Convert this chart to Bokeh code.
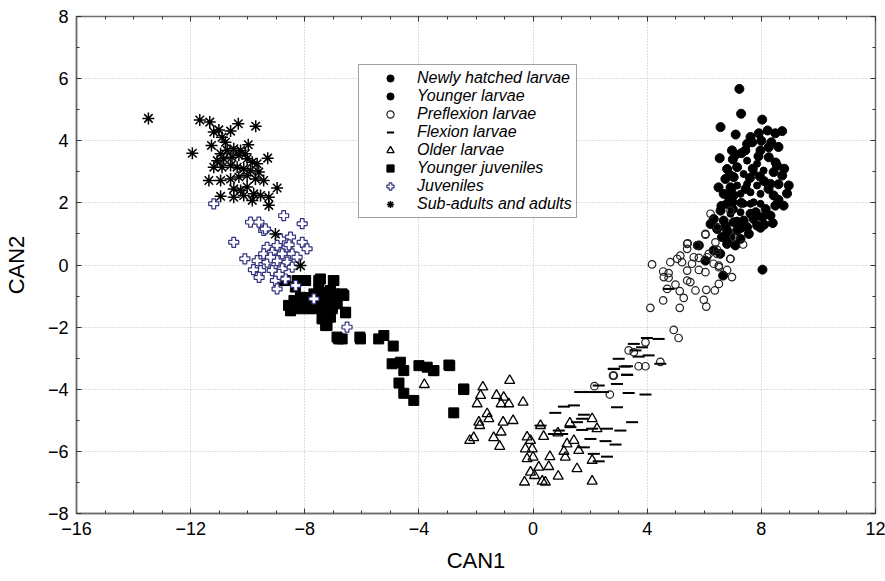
from bokeh.plotting import figure
from bokeh.models import LinearAxis, Legend, LegendItem, FixedTicker, Range1d, CustomJSTickFormatter
from bokeh.embed import file_html
from bokeh.resources import INLINE

# ---------------- data ----------------
nh_x = [7.50, 7.85, 7.38, 7.73, 8.08, 7.15, 7.50, 7.85, 7.27, 7.62, 7.97, 7.03, 7.38, 7.73, 6.92, 7.27, 8.20, 7.62, 7.97, 7.15]
nh_y = [3.36, 3.26, 2.93, 2.99, 3.04, 2.56, 2.61, 2.56, 2.29, 2.34, 2.29, 2.02, 1.97, 2.02, 1.65, 1.70, 2.61, 1.97, 1.97, 1.43]

yl_x = [7.23, 7.29, 8.03, 6.57, 7.62, 7.91, 8.22, 8.49, 8.73, 7.68, 8.35, 6.54, 6.80, 7.15, 8.26, 6.74,
        7.03, 8.43, 8.73, 8.96, 6.92, 8.32, 6.68, 7.03, 8.43, 6.80, 8.49, 8.78, 6.57, 7.62, 8.32,
        6.33, 6.68, 7.03, 7.38, 7.73, 8.03, 6.45, 6.80, 7.15, 7.50, 7.85, 6.62, 6.92, 7.27, 7.56,
        6.80, 7.09, 6.22, 7.44, 7.97, 8.26, 6.97, 8.04, 5.81, 6.04, 6.66, 6.33, 6.56, 7.97, 8.60,
        8.15, 8.55, 7.10, 6.95, 8.40,
        7.00, 7.30, 7.90, 8.50, 8.10, 7.60, 6.90, 8.60, 8.90, 8.60, 7.30, 7.00, 7.80, 8.10, 7.30,
        6.60, 6.50, 7.50, 8.00, 8.60, 7.10, 8.80, 7.70, 6.85, 7.45, 8.25, 6.75, 7.95]
yl_y = [5.67, 4.87, 4.68, 4.44, 4.12, 4.24, 4.33, 4.24, 4.31, 3.95, 3.95, 3.44, 3.09, 3.15, 3.47, 2.77,
        2.83, 2.99, 2.88, 2.56, 2.50, 2.61, 2.29, 2.24, 2.24, 1.97, 1.91, 1.91, 1.75, 1.65, 1.59,
        1.48, 1.43, 1.38, 1.43, 1.48, 1.54, 1.16, 1.11, 1.11, 1.22, 1.27, 0.90, 0.90, 0.84, 1.00,
        0.68, 0.63, 1.32, 3.69, 3.69, 3.79, 3.69, -0.15, 0.63, 0.14, -0.34, 0.47, 0.36, 1.20, 2.10,
        1.80, 3.20, 3.55, 2.45, 1.35,
        3.40, 3.60, 3.50, 3.30, 2.70, 2.80, 2.90, 2.60, 2.30, 2.00, 2.00, 1.80, 1.70, 1.30, 1.20,
        1.90, 2.50, 3.90, 4.00, 3.80, 4.20, 3.10, 3.10, 2.20, 2.45, 2.45, 1.25, 2.85]

pf_x = [4.17, 4.81, 4.56, 4.75, 5.05, 5.22, 5.42, 5.40, 5.75, 6.04, 6.39, 6.45, 6.16, 5.81, 5.57,
        5.40, 5.81, 6.04, 6.33, 6.51, 6.91, 6.80, 6.97, 4.58, 4.75, 4.99, 5.40, 5.51, 4.70, 5.14,
        5.28, 5.69, 6.07, 6.37, 6.51, 5.98, 6.07, 4.56, 4.11, 5.14, 4.93, 5.10, 3.94, 3.35, 3.53,
        3.70, 3.94, 4.46, 2.83, 2.80, 2.15, 2.69, 6.22, 6.04, 6.92, 6.45, 7.03, 7.36, 6.92, 5.40,
        5.75, 5.16, 5.63, 6.45, 6.51, 6.10]
pf_y = [0.02, 0.09, -0.21, -0.26, 0.20, 0.09, 0.70, 0.52, 0.63, 0.98, 0.73, 0.49, 0.36, 0.23, 0.04,
        -0.18, -0.16, -0.23, 0.04, -0.02, 0.20, -0.16, -0.39, -0.39, -0.41, -0.63, -0.50, -0.55, -0.77, -0.84,
        -1.06, -0.82, -0.80, -0.82, -0.61, -1.12, -1.34, -1.14, -1.38, -1.38, -2.09, -2.35, -2.49, -2.75, -2.81,
        -3.26, -3.26, -3.12, -3.56, -3.56, -3.90, -4.17, 1.65, 1.00, 1.75, 1.22, 0.90, 0.66, 0.20, 0.68,
        0.63, 0.30, 0.25, 0.36, -0.07, 0.25]

fl_x = [2.83, 3.21, 3.30, 2.30, 2.19, 1.95, 2.94, 3.35, 3.94, 1.43, 1.08, 0.78, 2.94, 3.47, 1.78,
        1.72, 1.54, 1.31, 1.72, 2.07, 2.59, 3.06, 0.90, 0.73, 1.02, 2.01, 2.54, 2.89, 1.78, 2.13,
        2.59, 2.30, 0.26, 3.99, 4.40, 3.53, 3.59, 3.82, 3.70, 4.05, 3.00, 3.29, 2.83, 3.29, 4.46,
        4.75, 1.65, 2.45]
fl_y = [-3.34, -3.27, -3.54, -3.88, -4.09, -4.09, -3.83, -4.12, -4.17, -4.52, -4.56, -4.76, -4.58, -5.06, -4.82,
        -4.95, -5.06, -5.22, -5.31, -5.27, -5.27, -5.33, -5.33, -5.44, -5.44, -5.60, -5.67, -5.78, -5.87, -6.08,
        -6.17, -6.32, -5.17, -2.35, -2.38, -2.54, -2.75, -2.65, -2.95, -2.91, -3.02, -3.26, -3.35, -3.53, -3.18,
        -0.77, -4.09, -4.09]

ol_x = [-0.82, -1.76, -1.84, -1.96, -1.28, -1.03, -1.12, -0.85, -0.35, -1.61, -1.55, -1.90, -1.87, -1.05,
        -0.70, -1.12, -2.22, -2.08, -1.38, -1.17, 0.26, 0.37, 0.87, 1.29, 1.43, 2.07, 2.24, 1.19, 1.08,
        -0.21, -0.09, -0.27, -0.03, -0.21, 0.00, 0.59, 0.55, 0.20, -0.09, 0.05, 0.32, 0.43, -0.30, 0.88,
        1.54, 2.07, 2.07, 1.60, 1.13, -3.81]
ol_y = [-3.72, -3.93, -4.20, -4.47, -4.20, -4.26, -4.47, -4.47, -4.42, -4.79, -4.95, -5.06, -5.17, -5.06,
        -5.01, -5.38, -5.65, -5.56, -5.56, -5.84, -5.17, -5.52, -5.41, -5.09, -5.65, -4.95, -5.27, -5.76, -6.00,
        -5.54, -5.65, -5.92, -5.92, -6.24, -6.19, -6.17, -6.49, -6.51, -6.67, -6.78, -6.96, -6.99, -6.99, -6.80,
        -6.56, -6.29, -6.96, -5.97, -6.19, -3.85]

yj_x = [-8.73, -8.33, -7.97, -7.51, -7.00, -8.15, -8.50, -7.68, -7.33, -6.98, -6.63, -7.92, -7.57, -7.22,
        -6.87, -7.33, -7.04, -6.57, -7.39, -7.22, -6.87, -6.69, -6.07, -5.41, -5.23, -4.90, -4.94, -4.65,
        -4.53, -4.00, -3.71, -3.48, -2.95, -4.70, -4.53, -4.18, -2.43, -3.48, -2.92, -2.43, -2.78, -8.57,
        -7.80, -7.45, -7.15, -7.70, -7.40,
        -8.68, -8.27, -7.98, -7.45, -6.98, -7.51, -7.10, -6.69, -8.38, -8.03, -7.57, -7.22, -6.87,
        -8.50, -8.15, -7.80, -7.39, -7.04, -6.57, -7.39, -7.10, -7.27, -6.81, -6.05]
yj_y = [-0.50, -0.71, -0.50, -0.50, -0.50, -1.04, -1.47, -0.93, -0.88, -0.93, -0.98, -1.25, -1.14, -1.20,
        -1.25, -1.47, -1.36, -1.54, -1.73, -1.95, -2.32, -2.38, -2.32, -2.38, -2.27, -2.61, -3.18, -3.13,
        -3.40, -3.24, -3.29, -3.40, -3.22, -3.80, -4.13, -4.36, -3.99, -3.40, -3.24, -4.01, -4.76, -1.30,
        -1.05, -1.00, -1.10, -1.40, -1.30,
        -0.50, -0.50, -0.50, -0.45, -0.50, -0.77, -0.82, -0.93, -1.14, -1.14, -1.09, -1.14, -1.20,
        -1.47, -1.41, -1.41, -1.36, -1.41, -1.52, -1.73, -1.68, -1.95, -2.38, -2.38]

jv_x = [-11.19, -8.74, -9.90, -9.61, -8.09, -9.44, -10.49, -8.50, -8.85, -8.09, -7.92, -9.32, -8.97,
        -8.62, -9.44, -9.14, -8.79, -8.44, -9.67, -9.32, -8.97, -8.62, -8.27, -9.55, -9.14, -8.79, -8.44,
        -9.03, -8.68, -8.97, -8.32, -7.68, -6.52, -9.38, -10.10, -9.80, -9.20, -8.90, -9.60, -8.55]
jv_y = [1.97, 1.59, 1.38, 1.38, 1.33, 1.11, 0.73, 0.90, 0.84, 0.73, 0.52, 0.57, 0.63,
        0.57, 0.36, 0.41, 0.36, 0.36, 0.14, 0.09, 0.14, 0.09, 0.25, -0.18, -0.18, -0.12, -0.07,
        -0.50, -0.45, -0.77, -0.66, -1.09, -2.00, 1.16, 0.20, -0.15, 0.25, -0.30, -0.40, 0.65]

sa_x = [-13.48, -11.68, -11.33, -10.33, -9.72, -11.19, -11.01, -10.60, -10.90, -10.78, -11.94, -11.27,
        -9.98, -9.30, -10.95, -10.72, -10.49, -10.25, -10.08, -11.07, -10.84, -10.55, -10.31, -10.02,
        -9.84, -9.67, -11.19, -10.90, -10.60, -10.37, -10.14, -9.90, -9.61, -11.36, -10.95, -10.60,
        -10.31, -10.02, -9.73, -9.44, -10.49, -10.25, -10.02, -9.79, -9.55, -9.26, -9.84, -9.26, -8.97,
        -10.95, -10.49, -10.14, -9.03, -8.15]
sa_y = [4.72, 4.67, 4.60, 4.55, 4.47, 4.28, 4.35, 4.31, 4.11, 3.95, 3.60, 3.85,
        3.87, 3.44, 3.58, 3.69, 3.74, 3.69, 3.58, 3.36, 3.42, 3.47, 3.53, 3.42,
        3.31, 3.26, 3.15, 3.15, 3.20, 3.15, 3.10, 3.04, 2.99, 2.72, 2.72, 2.77,
        2.83, 2.88, 2.77, 2.72, 2.45, 2.40, 2.51, 2.29, 2.24, 2.18, 2.08, 1.92, 2.48,
        2.21, 2.18, 2.24, 1.00, -0.02]

group_labels = ["Newly hatched larvae", "Younger larvae", "Preflexion larvae", "Flexion larvae",
                "Older larvae", "Younger juveniles", "Juveniles", "Sub-adults and adults"]
x_ticks = [-16, -12, -8, -4, 0, 4, 8, 12]
y_ticks = [-8, -6, -4, -2, 0, 2, 4, 6, 8]
x_minor = list(range(-16, 13))
y_minor = list(range(-8, 9))

FONT = "Liberation Sans"
AXIS_GREY = "#6e6e6e"

p = figure(width=885, height=581, output_backend="svg", toolbar_location=None,
           x_range=Range1d(-16, 12), y_range=Range1d(-8, 8),
           min_border_left=76, min_border_right=10, min_border_top=16, min_border_bottom=68,
           background_fill_color="white", border_fill_color="white")
p.outline_line_color = AXIS_GREY
p.outline_line_width = 1.5

for ax in (p.xaxis[0], p.yaxis[0]):
    ax.major_tick_in = 5
    ax.major_tick_out = 0
    ax.minor_tick_in = 3
    ax.minor_tick_out = 0
    ax.axis_line_color = AXIS_GREY
    ax.axis_line_width = 1.5
    ax.major_tick_line_color = "#333333"
    ax.minor_tick_line_color = "#333333"
    ax.major_label_text_font = FONT
    ax.major_label_text_font_size = "18px"
    ax.major_label_text_color = "black"
    ax.axis_label_text_font = FONT
    ax.axis_label_text_font_size = "22px"
    ax.axis_label_text_font_style = "normal"
    ax.axis_label_text_color = "black"
    ax.major_label_standoff = 8

p.xaxis[0].axis_label_standoff = 10
p.yaxis[0].axis_label_standoff = 16
p.xaxis[0].ticker = FixedTicker(ticks=x_ticks, minor_ticks=x_minor)
p.yaxis[0].ticker = FixedTicker(ticks=y_ticks, minor_ticks=y_minor)
p.xaxis.axis_label = "CAN1"
p.yaxis.axis_label = "CAN2"

# top / right tick marks (no labels)
for loc, ticks, minors in (("above", x_ticks, x_minor), ("right", y_ticks, y_minor)):
    a = LinearAxis(ticker=FixedTicker(ticks=ticks, minor_ticks=minors),
                   formatter=CustomJSTickFormatter(code="return ''"))
    a.major_tick_in = 5
    a.major_tick_out = 0
    a.minor_tick_in = 3
    a.minor_tick_out = 0
    a.axis_line_color = None
    a.major_tick_line_color = "#333333"
    a.minor_tick_line_color = "#333333"
    a.major_label_standoff = 0
    p.add_layout(a, loc)

p.xgrid.ticker = FixedTicker(ticks=x_ticks)
p.ygrid.ticker = FixedTicker(ticks=y_ticks)
for g in (p.xgrid[0], p.ygrid[0]):
    g.grid_line_color = "#bdbdbd"
    g.grid_line_dash = "1 2"
    g.grid_line_width = 1

NAVY = "#33337f"
r_nh = p.scatter(nh_x, nh_y, marker="circle", size=7, fill_color="black", line_color="black")
r_yl = p.scatter(yl_x, yl_y, marker="circle", size=9, fill_color="black", line_color="black")
r_pf = p.scatter(pf_x, pf_y, marker="circle", size=7.5, fill_color="white", fill_alpha=0,
                 line_color="#222222", line_width=1.2)
r_fl = p.scatter(fl_x, fl_y, marker="dash", size=12, line_color="black", line_width=2)
r_ol = p.scatter(ol_x, ol_y, marker="triangle", size=10, fill_color="white", fill_alpha=0,
                 line_color="black", line_width=1.3)
r_yj = p.scatter(yj_x, yj_y, marker="square", size=10, fill_color="black", line_color="black")
r_jv = p.scatter(jv_x, jv_y, marker="plus", size=10, fill_color="white", line_color=NAVY, line_width=1.2)
r_sa = p.scatter(sa_x, sa_y, marker="asterisk", size=12, line_color="black", line_width=1.5)

renderers = [r_nh, r_yl, r_pf, r_fl, r_ol, r_yj, r_jv, r_sa]
legend = Legend(items=[LegendItem(label=l, renderers=[r]) for l, r in zip(group_labels, renderers)],
                location=(282, 295))
legend.label_text_font = FONT
legend.label_text_font_size = "16px"
legend.label_text_font_style = "italic"
legend.label_text_color = "black"
legend.glyph_width = 54
legend.glyph_height = 18
legend.label_height = 18
legend.spacing = 0
legend.padding = 4
legend.margin = 0
legend.label_standoff = 0
legend.border_line_color = "#444444"
legend.border_line_width = 1.2
legend.background_fill_color = "white"
legend.background_fill_alpha = 1
p.add_layout(legend, "center")

open("out.html", "w").write(file_html(p, INLINE))
